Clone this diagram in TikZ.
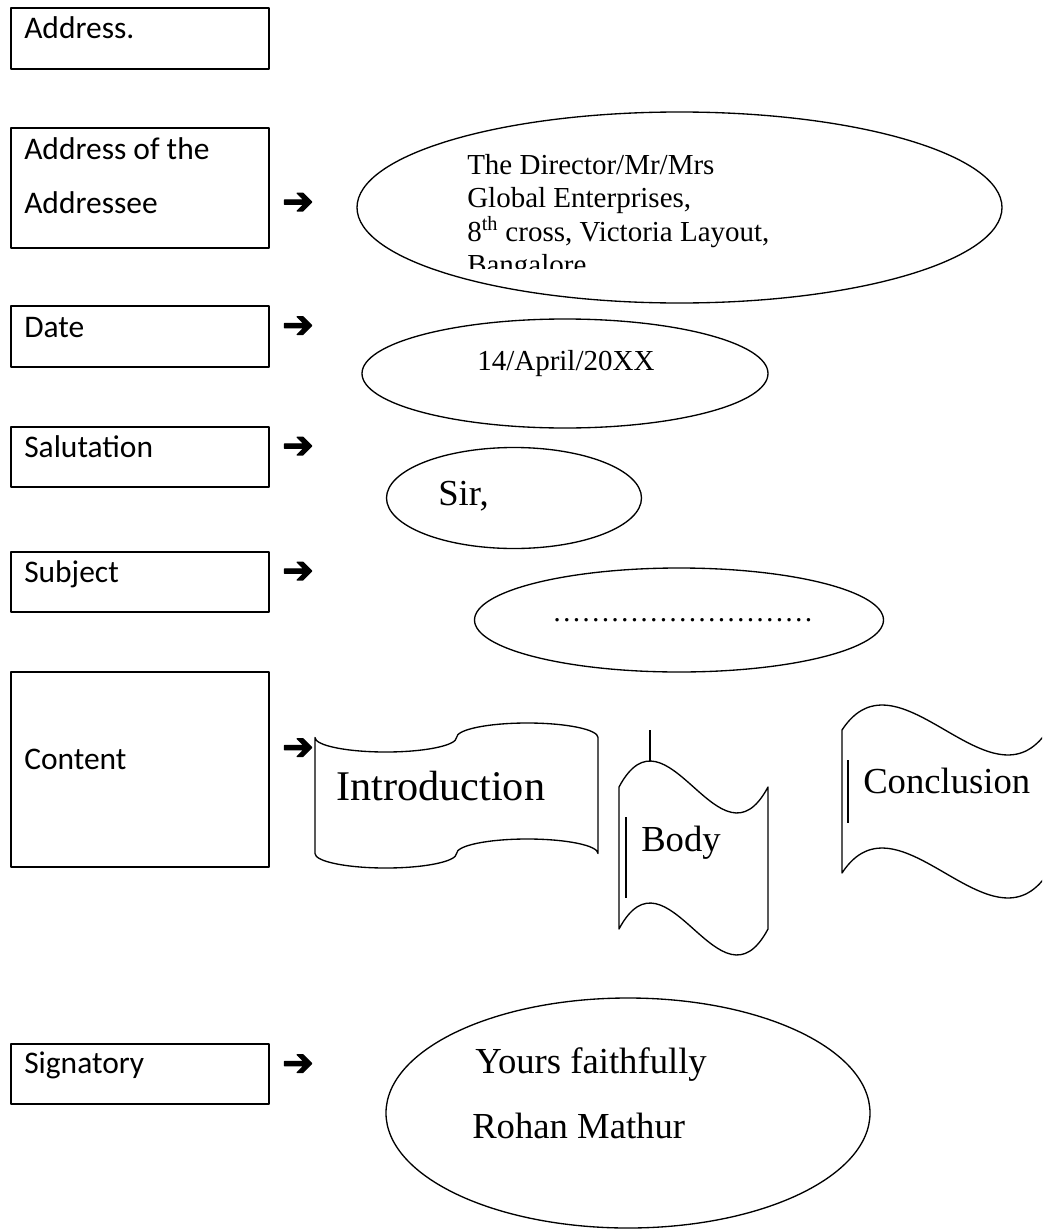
\documentclass[tikz,border=0pt]{standalone}
\usepackage{fontspec}
\setmainfont{Liberation Serif}
\newfontfamily\boxfont{Carlito}
\newfontfamily\arrowfont[FakeBold=3]{DejaVu Sans}
\usetikzlibrary{shapes.geometric}

\begin{document}
\begin{tikzpicture}[x=0.75pt, y=-0.75pt, line join=round,
	partbox/.style={draw, line width=1.5pt, anchor=north west, minimum width=193.9pt, inner sep=0pt},
	boxlabel/.style={anchor=base west, inner sep=0pt, font=\boxfont\fontsize{23.6}{28}\selectfont},
	pointer/.style={inner sep=0pt, font=\arrowfont\fontsize{28}{28}\selectfont},
	oval/.style={draw, ellipse, line width=1pt, inner sep=0pt},
	ovaltext/.style={anchor=base west, inner sep=0pt, font=\fontsize{21.75}{25}\selectfont},
	bigtext/.style={anchor=base west, inner sep=0pt, font=\fontsize{27.5}{33}\selectfont},
	wave/.style={draw, line width=1pt}]
	
	% Page area
	\fill[white] (0,0) rectangle (1042,1231);
	\useasboundingbox (0,0) rectangle (1042,1231);
	\clip (0,0) rectangle (1042,1231);
	
	% Left column: parts of the letter
	\node[partbox, minimum height=45.4pt] (addrbox) at (9.5,7.5) {};
	\node[partbox, minimum height=90pt] (addresseebox) at (9.5,127) {};
	\node[partbox, minimum height=45.75pt] (datebox) at (9.5,305) {};
	\node[partbox, minimum height=45pt] (salutebox) at (9.5,426) {};
	\node[partbox, minimum height=45pt] (subjectbox) at (9.5,551) {};
	\node[partbox, minimum height=146.25pt] (contentbox) at (9.5,671) {};
	\node[partbox, minimum height=45pt] (signbox) at (9.5,1043) {};
	
	% Labels inside boxes
	\node[boxlabel] (addrlabel) at (24,39) {Address.};
	\node[boxlabel] (addresseelabela) at (24,159) {Address of the};
	\node[boxlabel] (addresseelabelb) at (24,213) {Addressee};
	\node[boxlabel] (datelabel) at (24,337) {Date};
	\node[boxlabel] (salutelabel) at (24,457) {Salutation};
	\node[boxlabel] (subjectlabel) at (24,582) {Subject};
	\node[boxlabel] (contentlabel) at (24,769) {Content};
	\node[boxlabel] (signlabel) at (24,1073) {Signatory};
	
	% Arrow signs
	\node[pointer] (addresseearrow) at (298,203.5) {➔};
	\node[pointer] (datearrow) at (298,327) {➔};
	\node[pointer] (salutearrow) at (298,447.5) {➔};
	\node[pointer] (subjectarrow) at (298,572.5) {➔};
	\node[pointer] (contentarrow) at (298,749) {➔};
	\node[pointer] (signarrow) at (298,1065) {➔};
	
	% Address of the addressee
	\node[oval, minimum width=483.75pt, minimum height=143.25pt] (addresseeoval) at (679.5,207.5) {};
	\begin{scope}
		\clip (440,140) rectangle (900,268);
		\node[ovaltext] (addresseea) at (467,174) {The Director/Mr/Mrs};
		\node[ovaltext] (addresseeb) at (467,207.5) {Global Enterprises,};
		\node[ovaltext] (addresseec) at (467,241) {8\textsuperscript{th} cross, Victoria Layout,};
		\node[ovaltext] (addressed) at (467,274.5) {Bangalore};
	\end{scope}
	
	% Date
	\node[oval, minimum width=304.5pt, minimum height=81.75pt] (dateoval) at (565,373.5) {};
	\node[ovaltext] (datetext) at (477,370) {14/April/20XX};
	
	% Salutation
	\node[oval, minimum width=191.25pt, minimum height=75.75pt] (saluteoval) at (514,498) {};
	\node[bigtext] (salutetext) at (438,505) {Sir,};
	
	% Subject
	\node[oval, minimum width=306.75pt, minimum height=78pt] (subjectoval) at (679,620) {};
	\node[ovaltext] (subjecttext) at (552,621) {………………………};
	
	% Content: introduction
	\draw[wave] (315,737.5) .. controls (315,745.5) and (346.67,752) .. (385.75,752)
		.. controls (424.83,752) and (456.5,745.5) .. (456.5,737.5)
		.. controls (456.5,729.5) and (488.17,723) .. (527.25,723)
		.. controls (566.33,723) and (598,729.5) .. (598,737.5)
		-- (598,853.5)
		.. controls (598,845.5) and (566.33,839) .. (527.25,839)
		.. controls (488.17,839) and (456.5,845.5) .. (456.5,853.5)
		.. controls (456.5,861.5) and (424.83,868) .. (385.75,868)
		.. controls (346.67,868) and (315,861.5) .. (315,853.5) -- cycle;
	\node[anchor=base west, inner sep=0pt, font=\fontsize{31.7}{36}\selectfont] (introtext) at (336,800) {Introduction};
	
	% Content: body
	\draw[wave] (619,787) .. controls (667,697) and (720,877) .. (768,787)
		-- (768,929) .. controls (720,1019) and (667,839) .. (619,929) -- cycle;
	\draw[line width=1pt] (650,730) -- (650,761);
	\draw[line width=1pt] (626,817) -- (626,898);
	\node[bigtext] (bodytext) at (641,851) {Body};
	
	% Content: conclusion
	\draw[wave] (842,730) .. controls (898.7,643.5) and (991.3,816.5) .. (1048,730)
		-- (1048,873) .. controls (991.3,959.5) and (898.7,786.5) .. (842,873) -- cycle;
	\draw[line width=1pt] (848,760) -- (848,823);
	\node[bigtext] (conclusiontext) at (863,793) {Conclusion};
	
	% Signatory
	\node[oval, minimum width=363pt, minimum height=172.5pt] (signoval) at (628,1113) {};
	\node[bigtext] (signtexta) at (475,1073) {Yours faithfully};
	\node[bigtext] (signtextb) at (472,1138) {Rohan Mathur};
\end{tikzpicture}
\end{document}
